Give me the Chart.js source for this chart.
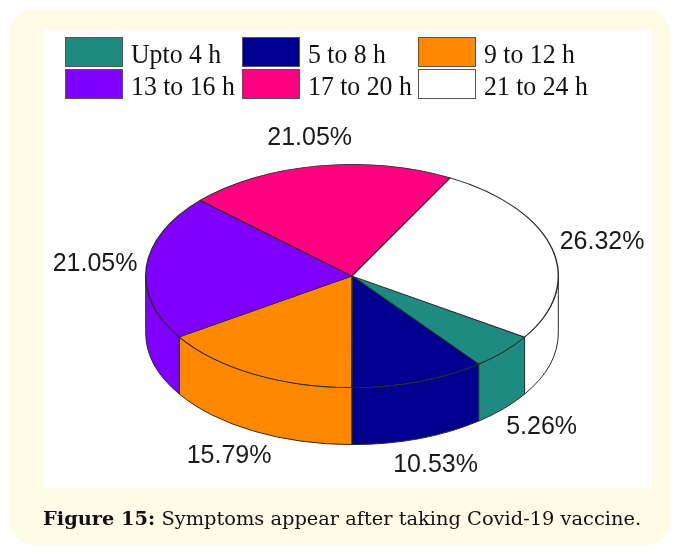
<!DOCTYPE html>
<html>
<head>
<meta charset="utf-8">
<script src="https://cdn.jsdelivr.net/npm/chart.js@4/dist/chart.umd.min.js"></script>
<style>
  html, body { margin: 0; padding: 0; background: #fff; }
  #pagina { position: relative; width: 680px; height: 553px; overflow: hidden; }
  #quadro { position: absolute; left: 10px; top: 10px; width: 660px; height: 535px; border-radius: 24px; background: #fffbe6; }
  #painel { position: absolute; left: 44px; top: 30px; width: 608px; height: 458px; background: #fff; }
  #legenda-fig { position: absolute; left: 43px; top: 507px; font-family: "DejaVu Serif", serif; font-size: 19.4px; color: #111; white-space: nowrap; }
  #grafico { position: absolute; left: 0; top: 0; }
</style>
</head>
<body>
<div id="pagina">
  <div id="quadro"></div>
  <div id="painel"></div>
  <canvas id="grafico" width="680" height="553"></canvas>
  <div id="legenda-fig"><b>Figure 15:</b> Symptoms appear after taking Covid-19 vaccine.</div>
</div>
<script>
// --- dados ---
const categorias = ["Upto 4 h", "5 to 8 h", "9 to 12 h", "13 to 16 h", "17 to 20 h", "21 to 24 h"];
const percentuais = [5.26, 10.53, 15.79, 21.05, 21.05, 26.32];
const cores = ["#1f8a80", "#00008f", "#ff8800", "#8000ff", "#ff0080", "#ffffff"];

// aparencia do "3D"
const achatamento = 0.541;   // ry / rx
const profundidade = 57;
const corBorda = "#2a2a2a";

// paredes laterais + achatamento vertical do topo
const pizza3d = {
    id: "pizza3d",
    beforeDatasetsDraw(chart) {
        const ctx = chart.ctx;
        const arcos = chart.getDatasetMeta(0).data;
        arcos.forEach((arco, i) => {
            const cx = arco.x, cy = arco.y;
            const rx = arco.outerRadius, ry = rx * achatamento;
            // parte da frente: angulos entre 0 e PI
            for (let k = -1; k <= 2; k++) {
                const a1 = Math.max(arco.startAngle, 2 * Math.PI * k);
                const a2 = Math.min(arco.endAngle, 2 * Math.PI * k + Math.PI);
                if (a2 <= a1) continue;
                ctx.save();
                ctx.beginPath();
                ctx.ellipse(cx, cy, rx, ry, 0, a1, a2);
                ctx.lineTo(cx + rx * Math.cos(a2), cy + ry * Math.sin(a2) + profundidade);
                ctx.ellipse(cx, cy + profundidade, rx, ry, 0, a2, a1, true);
                ctx.closePath();
                ctx.fillStyle = cores[i];
                ctx.fill();
                ctx.lineWidth = 1;
                ctx.strokeStyle = corBorda;
                ctx.stroke();
                ctx.restore();
            }
        });
        const a = chart.chartArea;
        const cx = (a.left + a.right) / 2, cy = (a.top + a.bottom) / 2;
        ctx.save();
        ctx.translate(cx, cy);
        ctx.scale(1, achatamento);
        ctx.translate(-cx, -cy);
    },
    afterDatasetsDraw(chart) {
        chart.ctx.restore();
    },
    afterDraw(chart) {
        const ctx = chart.ctx;
        const arcos = chart.getDatasetMeta(0).data;
        // rotulos de porcentagem
        ctx.save();
        ctx.font = "25px 'Liberation Sans', Arial, sans-serif";
        ctx.fillStyle = "#1a1a1a";
        ctx.textAlign = "center";
        ctx.textBaseline = "middle";
        arcos.forEach((arco, i) => {
            const meio = (arco.startAngle + arco.endAngle) / 2;
            const rx = arco.outerRadius * 1.25, ry = arco.outerRadius * achatamento * 1.25;
            const s = Math.sin(meio);
            const x = arco.x + Math.cos(meio) * rx;
            const y = arco.y + s * ry + (s > 0 ? profundidade : 0);
            ctx.fillText(percentuais[i].toFixed(2) + "%", x, y);
        });
        ctx.restore();

        // legenda em 3 colunas (texto um pouco estreitado como no original)
        const colX = [65, 242, 418];
        const linhaY = [37, 69];
        ctx.save();
        ctx.font = "28px 'Liberation Serif', 'Times New Roman', serif";
        ctx.textBaseline = "alphabetic";
        categorias.forEach((nome, i) => {
            const x = colX[i % 3], y = linhaY[Math.floor(i / 3)];
            ctx.fillStyle = cores[i];
            ctx.fillRect(x, y, 58, 30);
            ctx.strokeStyle = "#555";
            ctx.lineWidth = 1;
            ctx.strokeRect(x + 0.5, y + 0.5, 57, 29);
            ctx.save();
            ctx.translate(x + 66, y + 26);
            ctx.scale(0.92, 1);
            ctx.fillStyle = "#111";
            ctx.fillText(nome, 0, 0);
            ctx.restore();
        });
        ctx.restore();
    }
};

new Chart(document.getElementById("grafico"), {
    type: "pie",
    data: {
        labels: categorias,
        datasets: [{
            data: percentuais,
            backgroundColor: cores,
            borderColor: corBorda,
            borderWidth: 1.4
        }]
    },
    options: {
        responsive: false,
        animation: false,
        rotation: 123.2,
        layout: { padding: { left: 145, right: 121, top: 69, bottom: 70 } },
        plugins: {
            legend: { display: false },
            tooltip: { enabled: false }
        }
    },
    plugins: [pizza3d]
});
</script>
</body>
</html>
